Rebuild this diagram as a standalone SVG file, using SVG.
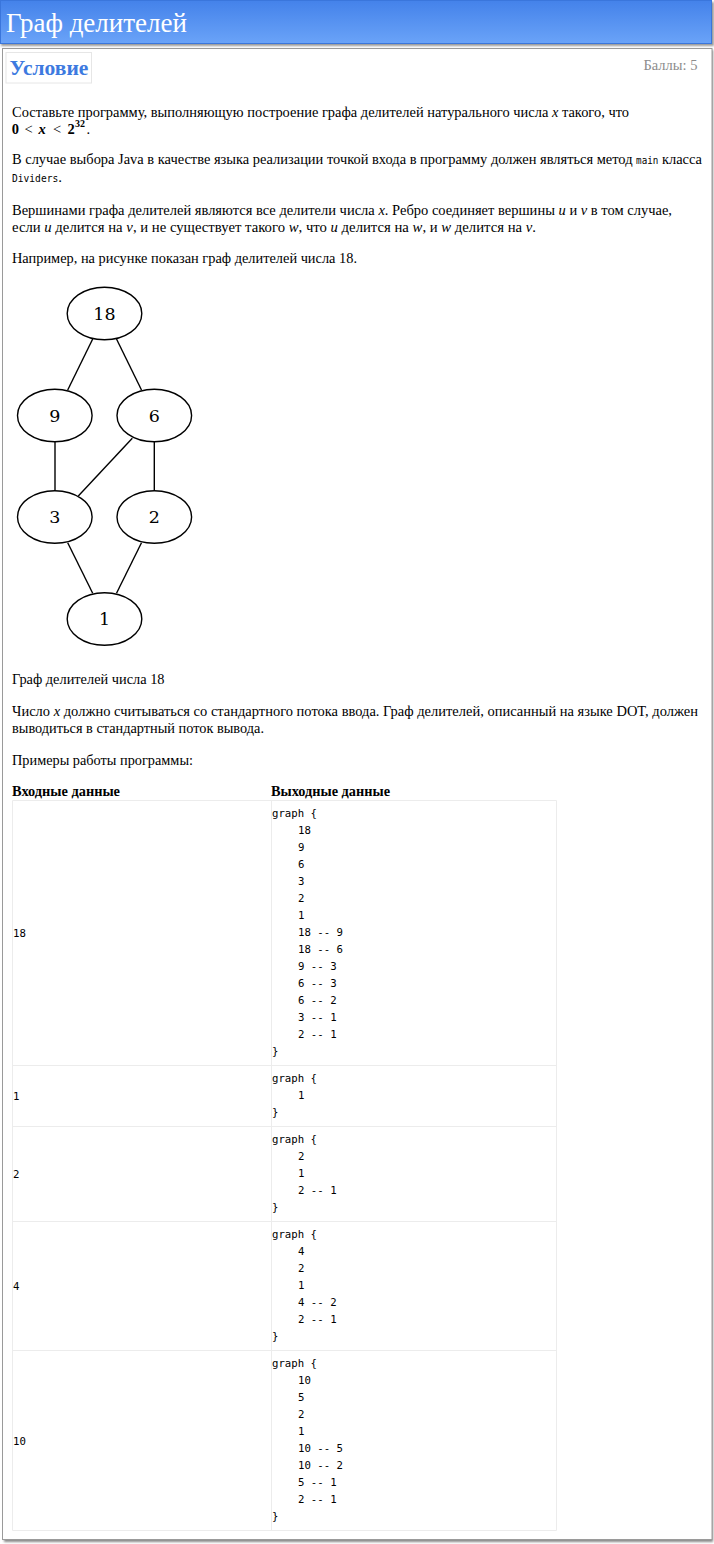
<svg xmlns="http://www.w3.org/2000/svg" width="714" height="1544" viewBox="0 0 714 1544">
<defs>
<linearGradient id="hdr" x1="0" y1="0" x2="0" y2="1">
<stop offset="0" stop-color="#4482ea"/>
<stop offset="1" stop-color="#6aa3f8"/>
</linearGradient>
<filter id="sh" x="-5%" y="-5%" width="110%" height="110%">
<feGaussianBlur stdDeviation="1.2"/>
</filter>
</defs>
<style>
.t{font-family:"Liberation Serif","Times New Roman",serif;font-size:15px;fill:#000}
.b{font-weight:bold}
.i{font-style:italic}
.m{font-family:"DejaVu Sans Mono","Liberation Mono",monospace;font-size:9.6px}
.c{font-family:"DejaVu Sans Mono","Liberation Mono",monospace;font-size:10.7px;fill:#000}
.tb{stroke:#ececec;stroke-width:1;fill:none}
.nd ellipse{fill:#fff;stroke:#000;stroke-width:1.4}
.nd text{font-family:"DejaVu Serif","Liberation Serif",serif;font-size:17.5px;text-anchor:middle;fill:#000}
.ed line{stroke:#000;stroke-width:1.4}
</style>
<rect width="714" height="1544" fill="#fff"/>
<!-- header -->
<rect x="1" y="2" width="713" height="44" fill="#999" filter="url(#sh)"/>
<rect x="0.5" y="0.5" width="711" height="43" fill="url(#hdr)" stroke="#3a76dc" stroke-width="1"/>
<text x="6" y="32" font-family="Liberation Serif, Times New Roman, serif" font-size="27" fill="#fff">Граф делителей</text>
<!-- content box -->
<rect x="4" y="50" width="709" height="1492" fill="#8a8a8a" filter="url(#sh)"/>
<rect x="2.5" y="48.5" width="709.5" height="1491" fill="#fff" stroke="#9a9a9a" stroke-width="1"/>
<rect x="6" y="52.5" width="85.5" height="30.5" fill="#fff" stroke="#e6e6e6" stroke-width="1"/>
<text x="9.5" y="75" font-family="Liberation Serif, Times New Roman, serif" font-size="21.5" font-weight="bold" fill="#3d7ae0">Условие</text>
<text x="697.5" y="69.5" text-anchor="end" font-family="Liberation Serif, Times New Roman, serif" font-size="14.5" fill="#8c8c8c">Баллы: 5</text>
<!-- paragraphs -->
<text class="t" x="12" y="117" textLength="617" lengthAdjust="spacingAndGlyphs">Составьте программу, выполняющую построение графа делителей натурального числа <tspan class="i">x</tspan> такого, что</text>
<g font-family="Liberation Serif, Times New Roman, serif" font-size="14.5">
<text x="11.7" y="134" font-weight="bold">0</text>
<text x="24.5" y="134">&lt;</text>
<text x="38.5" y="134" font-weight="bold" font-style="italic">x</text>
<text x="53" y="134">&lt;</text>
<text x="67.5" y="134" font-weight="bold">2</text>
<text x="75" y="127" font-weight="bold" font-size="10">32</text>
<text x="86.5" y="134">.</text>
</g>
<text class="t" x="12" y="164" textLength="690" lengthAdjust="spacingAndGlyphs">В случае выбора Java в качестве языка реализации точкой входа в программу должен являться метод <tspan class="m">main</tspan> класса</text>
<text class="t" x="12" y="181.5"><tspan class="m">Dividers</tspan>.</text>
<text class="t" x="12" y="214.5" textLength="660" lengthAdjust="spacingAndGlyphs">Вершинами графа делителей являются все делители числа <tspan class="i">x</tspan>. Ребро соединяет вершины <tspan class="i">u</tspan> и <tspan class="i">v</tspan> в том случае,</text>
<text class="t" x="12" y="231.5" textLength="524" lengthAdjust="spacingAndGlyphs">если <tspan class="i">u</tspan> делится на <tspan class="i">v</tspan>, и не существует такого <tspan class="i">w</tspan>, что <tspan class="i">u</tspan> делится на <tspan class="i">w</tspan>, и <tspan class="i">w</tspan> делится на <tspan class="i">v</tspan>.</text>
<text class="t" x="12" y="262.5" textLength="345" lengthAdjust="spacingAndGlyphs">Например, на рисунке показан граф делителей числа 18.</text>
<!-- graph -->
<g id="edges" class="ed">
<line x1="92.7" y1="339" x2="67.7" y2="390"/>
<line x1="116.5" y1="339" x2="141.5" y2="390"/>
<line x1="55" y1="442" x2="55" y2="490.5"/>
<line x1="132.3" y1="438.3" x2="78.3" y2="496"/>
<line x1="154.3" y1="442" x2="154.3" y2="490.5"/>
<line x1="67.7" y1="542.7" x2="92.7" y2="593.3"/>
<line x1="141.5" y1="542.7" x2="116.5" y2="593.3"/>
</g>
<g id="n18" class="nd"><ellipse cx="104.5" cy="313.5" rx="37.3" ry="26.3"/><text x="104.5" y="319.5">18</text></g>
<g id="n9" class="nd"><ellipse cx="54.8" cy="415.5" rx="37.3" ry="26.3"/><text x="54.8" y="421.5">9</text></g>
<g id="n6" class="nd"><ellipse cx="154.3" cy="415.5" rx="37.3" ry="26.3"/><text x="154.3" y="421.5">6</text></g>
<g id="n3" class="nd"><ellipse cx="54.8" cy="517" rx="37.3" ry="26.3"/><text x="54.8" y="523">3</text></g>
<g id="n2" class="nd"><ellipse cx="154.3" cy="517" rx="37.3" ry="26.3"/><text x="154.3" y="523">2</text></g>
<g id="n1" class="nd"><ellipse cx="104.5" cy="619" rx="37.3" ry="26.3"/><text x="104.5" y="625">1</text></g>
<text class="t" x="12" y="684" textLength="152.5" lengthAdjust="spacingAndGlyphs">Граф делителей числа 18</text>
<text class="t" x="12" y="716" textLength="686" lengthAdjust="spacingAndGlyphs">Число <tspan class="i">x</tspan> должно считываться со стандартного потока ввода. Граф делителей, описанный на языке DOT, должен</text>
<text class="t" x="12" y="732.5" textLength="252" lengthAdjust="spacingAndGlyphs">выводиться в стандартный поток вывода.</text>
<text class="t" x="12" y="764.5" textLength="181" lengthAdjust="spacingAndGlyphs">Примеры работы программы:</text>
<text class="t b" x="12" y="795.5" textLength="108" lengthAdjust="spacingAndGlyphs">Входные данные</text>
<text class="t b" x="271" y="795.5" textLength="119" lengthAdjust="spacingAndGlyphs">Выходные данные</text>
<!-- table -->
<g class="tb">
<path d="M12.5 800.5H556.5M12.5 1065.5H556.5M12.5 1126.5H556.5M12.5 1221.5H556.5M12.5 1350.5H556.5M12.5 1530.5H556.5"/>
<path d="M12.5 800.5V1530.5M271.5 800.5V1530.5M556.5 800.5V1530.5"/>
</g>
<g class="c">
<text x="13" y="937">18</text>
<text x="272" y="817">graph {</text>
<text x="298" y="834">18</text>
<text x="298" y="851">9</text>
<text x="298" y="868">6</text>
<text x="298" y="885">3</text>
<text x="298" y="902">2</text>
<text x="298" y="919">1</text>
<text x="298" y="936">18 -- 9</text>
<text x="298" y="953">18 -- 6</text>
<text x="298" y="970">9 -- 3</text>
<text x="298" y="987">6 -- 3</text>
<text x="298" y="1004">6 -- 2</text>
<text x="298" y="1021">3 -- 1</text>
<text x="298" y="1038">2 -- 1</text>
<text x="272" y="1055">}</text>

<text x="13" y="1100">1</text>
<text x="272" y="1082">graph {</text>
<text x="298" y="1099">1</text>
<text x="272" y="1116">}</text>

<text x="13" y="1178">2</text>
<text x="272" y="1143">graph {</text>
<text x="298" y="1160">2</text>
<text x="298" y="1177">1</text>
<text x="298" y="1194">2 -- 1</text>
<text x="272" y="1211">}</text>

<text x="13" y="1290">4</text>
<text x="272" y="1238">graph {</text>
<text x="298" y="1255">4</text>
<text x="298" y="1272">2</text>
<text x="298" y="1289">1</text>
<text x="298" y="1306">4 -- 2</text>
<text x="298" y="1323">2 -- 1</text>
<text x="272" y="1340">}</text>

<text x="13" y="1444.5">10</text>
<text x="272" y="1367">graph {</text>
<text x="298" y="1384">10</text>
<text x="298" y="1401">5</text>
<text x="298" y="1418">2</text>
<text x="298" y="1435">1</text>
<text x="298" y="1452">10 -- 5</text>
<text x="298" y="1469">10 -- 2</text>
<text x="298" y="1486">5 -- 1</text>
<text x="298" y="1503">2 -- 1</text>
<text x="272" y="1520">}</text>
</g>
</svg>
